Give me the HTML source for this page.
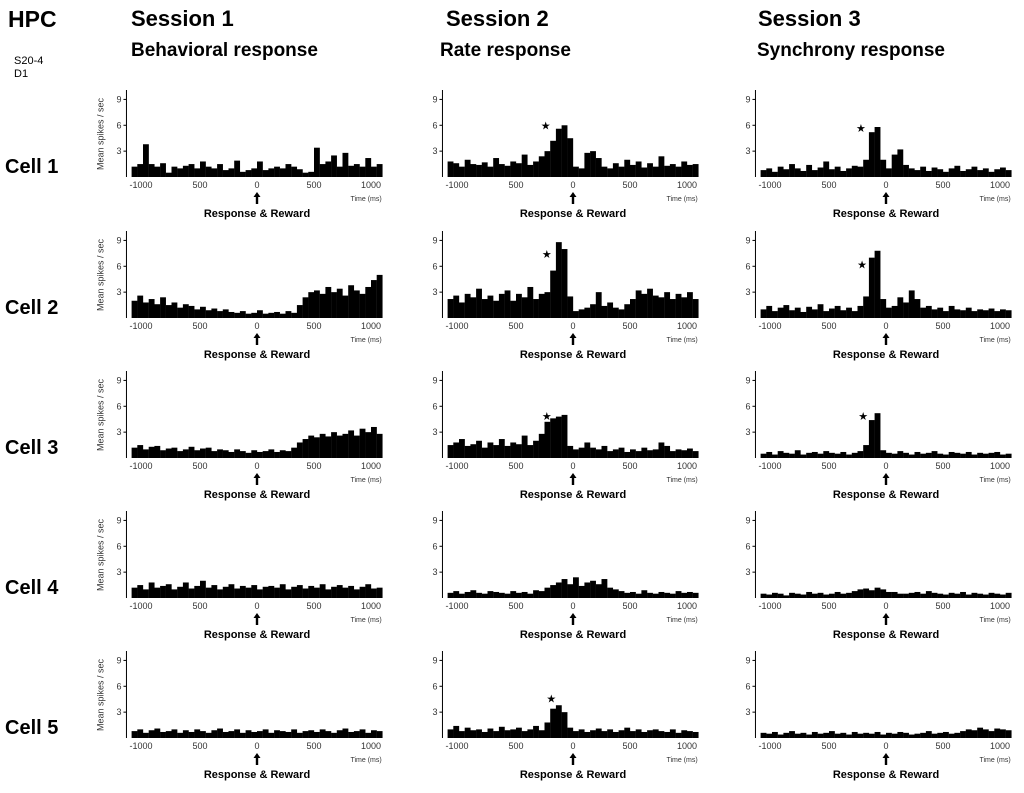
<!DOCTYPE html>
<html><head><meta charset="utf-8">
<style>
html,body{margin:0;padding:0;background:#fff;}
body{width:1024px;height:788px;overflow:hidden;font-family:"Liberation Sans",sans-serif;}
svg text{font-family:"Liberation Sans",sans-serif;}
</style></head>
<body>
<svg id="fig" width="1024" height="788" viewBox="0 0 1024 788" xmlns="http://www.w3.org/2000/svg">
<text x="8" y="27" font-size="23" font-weight="bold">HPC</text>
<text x="14" y="64" font-size="11">S20-4</text>
<text x="14" y="77" font-size="11">D1</text>
<text x="131" y="26" font-size="22" font-weight="bold">Session 1</text>
<text x="131" y="56" font-size="19" font-weight="bold">Behavioral response</text>
<text x="446" y="26" font-size="22" font-weight="bold">Session 2</text>
<text x="440" y="56" font-size="19" font-weight="bold">Rate response</text>
<text x="758" y="26" font-size="22" font-weight="bold">Session 3</text>
<text x="757" y="56" font-size="19" font-weight="bold">Synchrony response</text>
<g id="panels"></g>
</svg>
<script>
const cellLabels=["Cell 1","Cell 2","Cell 3","Cell 4","Cell 5"];
const xTicks=[-1000,-500,0,500,1000];
const xTickLabels=["-1000","500","0","500","1000"];
const yTicks=[3,6,9];
// histogram values (spikes/sec), 44 bins from -1100 to 1100 ms
const c11=[1.2,1.5,3.8,1.5,1.2,1.6,0.5,1.2,1.0,1.3,1.5,1.0,1.8,1.2,1.0,1.5,0.8,1.0,1.9,0.6,0.8,1.0,1.8,0.8,1.0,1.2,1.0,1.5,1.2,0.9,0.5,0.6,3.4,1.5,1.8,2.5,1.2,2.8,1.3,1.5,1.2,2.2,1.2,1.5];
const c12=[1.8,1.6,1.2,2.0,1.5,1.4,1.7,1.2,2.2,1.5,1.3,1.8,1.6,2.6,1.4,1.8,2.4,3.0,4.2,5.6,6.0,4.5,1.2,1.0,2.8,3.0,2.2,1.2,1.0,1.6,1.2,2.0,1.4,1.8,1.1,1.6,1.2,2.4,1.3,1.5,1.2,1.8,1.4,1.5];
const c13=[0.8,1.0,0.6,1.2,0.9,1.5,1.0,0.7,1.4,0.8,1.1,1.8,0.9,1.2,0.7,1.0,1.3,1.2,2.0,5.2,5.8,2.0,1.0,2.6,3.2,1.4,1.0,0.8,1.2,0.7,1.1,0.9,0.6,1.0,1.3,0.7,0.9,1.2,0.8,1.0,0.6,0.9,1.1,0.8];
const c21=[2.0,2.6,1.8,2.2,1.6,2.4,1.5,1.8,1.2,1.6,1.4,1.0,1.3,0.9,1.1,0.8,1.0,0.7,0.6,0.8,0.5,0.6,0.9,0.5,0.6,0.7,0.5,0.8,0.6,1.5,2.4,3.0,3.2,2.8,3.6,3.0,3.4,2.6,3.8,3.2,2.8,3.6,4.4,5.0];
const c22=[2.2,2.6,1.8,2.8,2.4,3.4,2.2,2.6,2.0,2.8,3.2,2.0,2.8,2.4,3.6,2.2,2.8,3.0,5.5,8.8,8.0,2.5,0.8,1.0,1.2,1.6,3.0,1.4,1.8,1.2,1.0,1.6,2.2,3.2,2.8,3.4,2.6,2.4,3.0,2.2,2.8,2.4,3.0,2.2];
const c23=[1.0,1.4,0.8,1.2,1.5,0.9,1.2,0.7,1.3,1.0,1.6,0.8,1.1,1.4,0.9,1.2,0.8,1.4,2.5,7.0,7.8,2.2,1.2,1.4,2.4,1.8,3.2,2.2,1.2,1.4,1.0,1.2,0.8,1.4,1.0,0.9,1.2,0.8,1.0,0.9,1.1,0.8,1.0,0.9];
const c31=[1.2,1.5,1.0,1.3,1.4,0.9,1.1,1.2,0.8,1.0,1.3,0.9,1.1,1.2,0.8,1.0,0.9,0.7,1.0,0.8,0.6,0.9,0.7,0.8,1.0,0.7,0.9,0.8,1.2,1.8,2.2,2.6,2.4,2.8,2.5,3.0,2.6,2.8,3.2,2.6,3.4,3.0,3.6,2.8];
const c32=[1.5,1.8,2.2,1.4,1.6,2.0,1.2,1.8,1.5,2.2,1.4,1.8,1.6,2.6,1.5,2.0,2.8,4.2,4.6,4.8,5.0,1.4,1.0,1.2,1.8,1.2,1.0,1.4,0.8,1.0,1.2,0.7,1.0,0.8,1.2,0.9,1.0,1.8,1.4,0.8,1.0,0.9,1.1,0.8];
const c33=[0.5,0.7,0.4,0.8,0.6,0.5,0.9,0.4,0.6,0.7,0.5,0.8,0.6,0.5,0.7,0.4,0.6,0.8,1.5,4.4,5.2,0.9,0.6,0.5,0.8,0.6,0.4,0.7,0.5,0.6,0.8,0.5,0.4,0.7,0.6,0.5,0.7,0.4,0.6,0.5,0.6,0.7,0.4,0.5];
const c41=[1.2,1.5,1.0,1.8,1.2,1.4,1.6,1.0,1.3,1.8,1.1,1.4,2.0,1.2,1.5,1.0,1.3,1.6,1.1,1.4,1.2,1.5,1.0,1.3,1.4,1.2,1.6,1.0,1.3,1.5,1.1,1.4,1.2,1.6,1.0,1.3,1.5,1.2,1.4,1.0,1.3,1.6,1.1,1.2];
const c42=[0.6,0.8,0.5,0.7,0.9,0.6,0.5,0.8,0.7,0.6,0.5,0.8,0.6,0.7,0.5,0.9,0.8,1.2,1.5,1.8,2.2,1.6,2.4,1.4,1.8,2.0,1.6,2.2,1.2,1.0,0.8,0.6,0.7,0.5,0.9,0.6,0.5,0.7,0.6,0.5,0.8,0.6,0.7,0.6];
const c43=[0.5,0.4,0.6,0.5,0.3,0.6,0.5,0.4,0.7,0.5,0.6,0.4,0.5,0.7,0.5,0.6,0.8,1.0,1.1,0.9,1.2,1.0,0.7,0.7,0.5,0.5,0.6,0.7,0.5,0.8,0.6,0.5,0.4,0.6,0.5,0.7,0.4,0.6,0.5,0.4,0.6,0.5,0.4,0.6];
const c51=[0.8,1.0,0.6,0.9,1.1,0.7,0.8,1.0,0.6,0.9,0.7,1.0,0.8,0.6,0.9,1.1,0.7,0.8,1.0,0.6,0.9,0.7,0.8,1.0,0.6,0.9,0.8,0.7,1.0,0.6,0.8,0.9,0.7,1.0,0.8,0.6,0.9,1.1,0.7,0.8,1.0,0.6,0.9,0.8];
const c52=[1.0,1.4,0.8,1.2,0.9,1.0,0.7,1.1,0.8,1.3,0.9,1.0,1.2,0.8,1.0,1.4,0.9,1.8,3.4,3.8,3.0,1.2,0.8,1.0,0.7,0.9,1.1,0.8,1.0,0.7,0.9,1.2,0.8,1.0,0.7,0.9,1.0,0.8,0.7,1.0,0.6,0.9,0.8,0.7];
const c53=[0.6,0.5,0.7,0.4,0.6,0.8,0.5,0.6,0.4,0.7,0.5,0.6,0.8,0.5,0.6,0.4,0.7,0.5,0.6,0.5,0.7,0.4,0.6,0.5,0.7,0.6,0.4,0.5,0.6,0.8,0.5,0.6,0.7,0.5,0.6,0.8,1.0,0.9,1.2,1.0,0.8,1.1,1.0,0.9];
const panelData=[[c11,c12,c13],[c21,c22,c23],[c31,c32,c33],[c41,c42,c43],[c51,c52,c53]];
// significance stars
const starRows=[0,0,1,1,2,2,4];
const starCols=[1,2,1,2,1,2,1];
const starTimes=[-240,-220,-230,-210,-230,-200,-190];
const starVals=[6.0,5.7,7.4,6.2,4.9,4.9,4.6];

const NS="http://www.w3.org/2000/svg";
const g=document.getElementById('panels');
const colZero=[257,573,886], rowBase=[177,318,458,598,738];
const pxPerMs=0.114, pxPerUnit=8.62;
function X(c,t){return colZero[c]+t*pxPerMs;}
function Y(r,v){return rowBase[r]-v*pxPerUnit;}
function mk(tag,attrs,parent){const e=document.createElementNS(NS,tag);for(const k in attrs)e.setAttribute(k,attrs[k]);(parent||g).appendChild(e);return e;}
function txt(s,attrs,parent){const e=mk('text',attrs,parent);e.textContent=s;return e;}

cellLabels.forEach((lab,r)=>{
  const t=txt(lab,{x:5,y:rowBase[r]-4,'font-size':20,'font-weight':'bold'});
  
  
});

for(let r=0;r<5;r++)for(let c=0;c<3;c++){
  const pg=mk('g',{});
  
  
  const vals=panelData[r][c];
  const bw=2200/vals.length;
  vals.forEach((v,i)=>{
    const x0=X(c,-1100+i*bw), x1=X(c,-1100+(i+1)*bw);
    const b=mk('rect',{x:x0.toFixed(2),y:Y(r,v).toFixed(2),width:(x1-x0+0.15).toFixed(2),height:(v*pxPerUnit).toFixed(2),fill:'#000'},pg);
    
    
  });
  const ax=X(c,-1110)-4;
  const yl=mk('line',{x1:ax,y1:rowBase[r],x2:ax,y2:rowBase[r]-87,stroke:'#000','stroke-width':1},pg);
  
  
  yTicks.forEach(v=>{
    mk('line',{x1:ax-3,x2:ax,y1:Y(r,v),y2:Y(r,v),stroke:'#000','stroke-width':1},pg);
    const tl=txt(String(v),{x:ax-5,y:Y(r,v)+3,'font-size':9,'text-anchor':'end',fill:'#333'},pg);
    
    
  });
  xTicks.forEach((t,i)=>{
    const xl=txt(xTickLabels[i],{x:X(c,t)+(i==0?-2:0),y:rowBase[r]+11,'font-size':9,'text-anchor':'middle',fill:'#333'},pg);
    
    
  });
  const tt=txt('Time (ms)',{x:X(c,820),y:rowBase[r]+24,'font-size':7,fill:'#333'},pg);
  
  
  const ar=mk('path',{d:`M${X(c,0)} ${rowBase[r]+15} l-3.5 5 h2.3 v7 h2.4 v-7 h2.3 z`,fill:'#000'},pg);
  
  
  const ev=txt('Response & Reward',{x:X(c,0),y:rowBase[r]+40,'font-size':11,'font-weight':'bold','text-anchor':'middle'},pg);
  
  
  if(c===0){
    const yt=txt('Mean spikes / sec',{x:0,y:0,'font-size':9,'text-anchor':'middle',fill:'#333',transform:`translate(${ax-23},${rowBase[r]-43}) rotate(-90)`},pg);
    
    
  }
}
starRows.forEach((r,i)=>{
  const c=starCols[i];
  const s=txt('★',{x:X(c,starTimes[i]),y:Y(r,starVals[i])+4,'font-size':11,'text-anchor':'middle'});
  
  
});
</script>
</body></html>
